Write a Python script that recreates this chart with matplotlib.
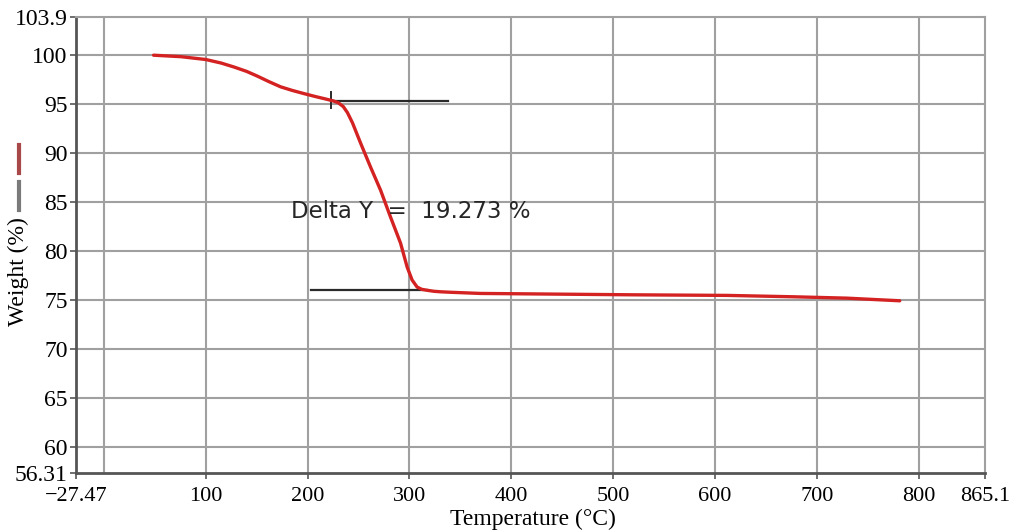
import matplotlib

matplotlib.use("Agg")
import matplotlib.pyplot as plt
from matplotlib.lines import Line2D

# TGA curve (temperature in degC, weight in %)
temperature = [48.7, 75.5, 100, 115, 127.5, 140, 150.7, 162, 173.5, 185, 196,
               208, 218, 225, 230, 235, 239, 244, 252.0, 261.8, 271.6, 281.4,
               291.2, 297.7, 302.6, 307.5, 312, 317.4, 324, 330.4, 340.2,
               369.6, 519.6, 611.8, 676.5, 729.4, 781.4]
weight = [100.0, 99.85, 99.56, 99.2, 98.8, 98.35, 97.86, 97.3, 96.77, 96.4,
          96.09, 95.77, 95.52, 95.34, 95.15, 94.75, 94.15, 93.1, 91.02,
          88.57, 86.22, 83.47, 80.82, 78.37, 77.04, 76.33, 76.1, 76.0,
          75.9, 75.85, 75.80, 75.68, 75.54, 75.48, 75.34, 75.2, 74.93]

# step-analysis guide lines
onset_upper_x = [222.5, 338]
onset_upper_y = 95.34
onset_tick_y = [94.59, 96.22]
onset_lower_x = [203, 317.6]
onset_lower_y = 76.02
delta_label = "Delta Y  =  19.273 %"

x_grid = [0, 100, 200, 300, 400, 500, 600, 700, 800]
y_grid = [60, 65, 70, 75, 80, 85, 90, 95, 100]
x_ticks = [-27.47, 100, 200, 300, 400, 500, 600, 700, 800, 865.1]
x_labels = ["\u221227.47", "100", "200", "300", "400", "500", "600", "700",
            "800", "865.1"]
y_bottom = 57.35
y_ticks = [y_bottom, 60, 65, 70, 75, 80, 85, 90, 95, 100, 103.9]
y_labels = ["56.31", "60", "65", "70", "75", "80", "85", "90", "95", "100",
            "103.9"]

SERIF = ["Liberation Serif", "DejaVu Serif"]
GRID = "#a0a0a0"
W, H = 1016, 531

fig = plt.figure(figsize=(W / 100, H / 100), dpi=100)
ax = fig.add_axes([76 / W, 1 - 473 / H, (985 - 76) / W, (473 - 17) / H])

for xv in x_grid:
    ax.axvline(xv, color=GRID, lw=1.5, zorder=1)
for yv in y_grid:
    ax.axhline(yv, color=GRID, lw=1.5, zorder=1)

ax.plot(onset_upper_x, [onset_upper_y] * 2, color="#2a2a2a", lw=1.6, zorder=3)
ax.plot([onset_upper_x[0]] * 2, onset_tick_y, color="#2a2a2a", lw=1.4, zorder=3)
ax.plot(onset_lower_x, [onset_lower_y] * 2, color="#2a2a2a", lw=1.6, zorder=3)
ax.plot(temperature, weight, color="#d42222", lw=2.4, zorder=4,
        solid_capstyle="round", solid_joinstyle="round")
ax.text(184, 84.0, delta_label, fontsize=16.5, color="#262626",
        family=["DejaVu Sans"], va="center", ha="left", zorder=5)

ax.set_xlim(-27.47, 865.1)
ax.set_ylim(y_bottom, 103.9)
ax.set_xticks(x_ticks)
ax.set_xticklabels(x_labels, family=SERIF, fontsize=16)
ax.set_yticks(y_ticks)
ax.set_yticklabels(y_labels, family=SERIF, fontsize=17)
ax.tick_params(axis="x", direction="out", length=4, width=1.2,
               color="#555555", pad=6)
ax.tick_params(axis="y", direction="out", length=4, width=1.2,
               color="#555555", pad=2)

for side in ("left", "bottom"):
    ax.spines[side].set_color("#555555")
    ax.spines[side].set_linewidth(2)
for side in ("top", "right"):
    ax.spines[side].set_color(GRID)
    ax.spines[side].set_linewidth(1.5)

fig.text(533 / W, 1 - 519 / H, "Temperature (\u00b0C)", family=SERIF,
         fontsize=17, ha="center", va="center")
fig.text(18 / W, 1 - 272 / H, "Weight (%)", family=SERIF, fontsize=17,
         rotation=90, ha="center", va="center")

# small series markers next to the y label
fig.add_artist(Line2D([19 / W, 19 / W], [1 - 145 / H, 1 - 173 / H],
                      color="#a84848", lw=3, transform=fig.transFigure))
fig.add_artist(Line2D([19 / W, 19 / W], [1 - 182 / H, 1 - 210 / H],
                      color="#7a7a7a", lw=3, transform=fig.transFigure))

fig.savefig("out.png", dpi=100)
